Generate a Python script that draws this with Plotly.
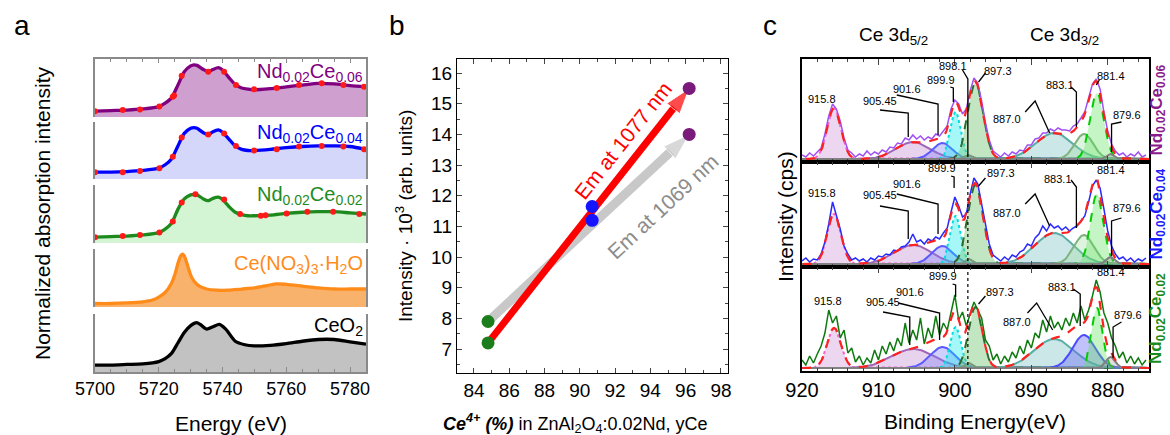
import numpy as np
import plotly.graph_objects as go

# ===================== Panel a : Ce L3-edge XANES =====================
E_CE06 = [5700, 5705, 5710, 5715, 5720, 5722, 5724, 5726, 5728, 5730, 5731, 5732, 5734, 5735.5, 5737,
          5738.7, 5740, 5742, 5744, 5746, 5748, 5750, 5755, 5760, 5765, 5770, 5775, 5780, 5785]
I_CE06 = [0.10, 0.11, 0.12, 0.14, 0.18, 0.24, 0.33, 0.55, 0.78, 0.88, 0.90, 0.89, 0.82, 0.78, 0.82,
          0.85, 0.81, 0.68, 0.56, 0.50, 0.48, 0.47, 0.49, 0.52, 0.55, 0.58, 0.57, 0.54, 0.52]
DOT_E_CE06 = [5700, 5708.7, 5714.1, 5720.2, 5724.4, 5724.8, 5727.2, 5735.5, 5740.5, 5744.2, 5749.9,
              5757, 5764, 5771.1, 5777.9, 5784.4]
DOT_I_CE06 = [0.10, 0.12, 0.13, 0.18, 0.35, 0.37, 0.71, 0.78, 0.78, 0.55, 0.48, 0.50, 0.55, 0.58, 0.55, 0.52]

E_CE04 = E_CE06
I_CE04 = [0.12, 0.12, 0.13, 0.15, 0.19, 0.25, 0.35, 0.58, 0.80, 0.89, 0.90, 0.89, 0.81, 0.78, 0.83,
          0.86, 0.82, 0.70, 0.58, 0.52, 0.50, 0.50, 0.52, 0.55, 0.57, 0.58, 0.58, 0.57, 0.52]
DOT_E_CE04 = [5700, 5708.7, 5714.1, 5720.2, 5724.4, 5727.2, 5735.5, 5740.5, 5744.2, 5749.9, 5757,
              5764, 5771.1, 5777.9, 5784.4]
DOT_I_CE04 = [0.12, 0.12, 0.14, 0.19, 0.39, 0.73, 0.78, 0.80, 0.58, 0.50, 0.52, 0.57, 0.58, 0.57, 0.52]

E_CE02 = E_CE06
I_CE02 = [0.10, 0.11, 0.12, 0.14, 0.18, 0.24, 0.34, 0.58, 0.76, 0.83, 0.84, 0.83, 0.76, 0.73, 0.77,
          0.79, 0.75, 0.63, 0.53, 0.49, 0.47, 0.47, 0.48, 0.51, 0.53, 0.54, 0.54, 0.52, 0.50]
DOT_E_CE02 = [5700, 5708.7, 5714.1, 5720.2, 5724.4, 5727.2, 5731.5, 5740.5, 5745.5, 5752, 5753.5,
              5760.1, 5766.6, 5774.7, 5782.9]
DOT_I_CE02 = [0.10, 0.12, 0.14, 0.18, 0.37, 0.70, 0.84, 0.75, 0.50, 0.47, 0.48, 0.51, 0.54, 0.54, 0.50]

E_NITRATE = [5700, 5705, 5710, 5715, 5718, 5720, 5722, 5724, 5725, 5726, 5727, 5727.5, 5728, 5729, 5730,
             5731, 5733, 5735, 5738, 5742, 5746, 5750, 5754, 5757, 5760, 5765, 5770, 5775, 5780, 5785]
I_NITRATE = [0.06, 0.06, 0.07, 0.09, 0.12, 0.17, 0.25, 0.41, 0.55, 0.75, 0.89, 0.91, 0.88, 0.72, 0.55,
             0.45, 0.35, 0.31, 0.29, 0.29, 0.31, 0.33, 0.37, 0.40, 0.39, 0.36, 0.33, 0.31, 0.31, 0.31]

E_CEO2 = [5700, 5705, 5710, 5715, 5720, 5722, 5724, 5726, 5728, 5730, 5731.9, 5733, 5735, 5737, 5739,
          5741, 5744, 5747, 5750, 5755, 5760, 5765, 5770, 5775, 5780, 5785]
I_CEO2 = [0.12, 0.12, 0.13, 0.14, 0.18, 0.23, 0.32, 0.50, 0.68, 0.80, 0.85, 0.82, 0.74, 0.78, 0.82,
          0.74, 0.53, 0.47, 0.45, 0.46, 0.49, 0.53, 0.56, 0.56, 0.52, 0.48]

XANES_LABELS = ["Nd<sub>0.02</sub>Ce<sub>0.06</sub>", "Nd<sub>0.02</sub>Ce<sub>0.04</sub>",
                "Nd<sub>0.02</sub>Ce<sub>0.02</sub>", "Ce(NO<sub>3</sub>)<sub>3</sub>·H<sub>2</sub>O",
                "CeO<sub>2</sub>"]
XANES_TICKS = [5700, 5720, 5740, 5760, 5780]

# ===================== Panel b : emission intensity =====================
CE4_PERCENT = [84.8, 90.7, 96.2]
EM_1077 = [7.2, 11.65, 15.5]
EM_1069 = [7.9, 11.2, 14.0]

# ===================== Panel c : Ce 3d XPS =====================
BE = np.arange(920.0, 874.9, -0.5)
SPEC_06 = [4, 2, 6, 3, 7, 11, 25, 43, 55, 50,
           38, 21, 9, 6, 2, 5, 3, 8, 4, 7,
           5, 9, 7, 12, 11, 16, 15, 21, 19, 24,
           20, 23, 19, 22, 20, 25, 23, 28, 33, 50,
           59, 55, 45, 50, 68, 81, 76, 58, 36, 19,
           8, 5, 2, 6, 3, 7, 5, 9, 8, 14,
           14, 20, 21, 26, 26, 30, 28, 31, 29, 29,
           28, 33, 35, 41, 47, 61, 75, 80, 70, 47,
           28, 15, 8, 4, 6, 2, 5, 3, 7, 2,
           4]
SPEC_04 = [3, 6, 2, 5, 4, 10, 22, 40, 62, 49,
           35, 18, 10, 4, 6, 3, 5, 2, 6, 4,
           8, 7, 10, 9, 14, 13, 17, 18, 22, 30,
           22, 24, 20, 25, 23, 27, 25, 31, 36, 52,
           67, 58, 47, 50, 70, 86, 80, 60, 38, 20,
           9, 6, 3, 7, 4, 9, 7, 12, 14, 20,
           18, 26, 30, 38, 33, 40, 36, 38, 34, 37,
           33, 36, 38, 43, 48, 62, 78, 84, 76, 55,
           33, 18, 10, 5, 7, 3, 6, 2, 5, 3,
           6]
SPEC_02 = [8, 3, 12, 5, 14, 22, 35, 58, 45, 52,
           30, 38, 15, 20, 6, 12, 3, 10, 5, 18,
           8, 22, 14, 26, 17, 30, 22, 45, 25, 38,
           28, 50, 24, 40, 30, 52, 33, 45, 38, 55,
           73, 48, 56, 42, 55, 66, 58, 50, 28, 22,
           8, 14, 4, 12, 6, 16, 10, 22, 14, 28,
           20, 35, 30, 48, 36, 52, 40, 46, 38, 50,
           42, 55, 45, 62, 48, 58, 72, 88, 76, 55,
           45, 30, 22, 10, 16, 5, 12, 4, 10, 3,
           8]

PEAK_CENTERS = [915.8, 905.45, 901.6, 899.9, 898.1, 897.3, 887.0, 883.1, 881.4, 879.6]
HEIGHTS_06 = [51, 17, 16, 47, 4, 76, 26, 25, 66, 5]
WIDTHS_06 = [0.9, 2.2, 1.3, 0.7, 0.5, 1.0, 2.4, 1.2, 0.9, 0.5]
HEIGHTS_04 = [50, 19, 18, 48, 5, 79, 31, 29, 70, 7]
WIDTHS_04 = [0.9, 2.4, 1.4, 0.7, 0.5, 1.0, 2.5, 1.3, 0.85, 0.55]
HEIGHTS_02 = [40, 19, 21, 41, 5, 61, 29, 33, 60, 11]
WIDTHS_02 = [0.9, 2.8, 1.6, 0.7, 0.5, 0.9, 2.6, 1.5, 0.7, 0.6]
XPS_TICKS = [920, 910, 900, 890, 880]
XPS_SAMPLE_LABELS = ["Nd<sub>0.02</sub>Ce<sub>0.06</sub>", "Nd<sub>0.02</sub>Ce<sub>0.04</sub>",
                     "Nd<sub>0.02</sub>Ce<sub>0.02</sub>"]

# ===================== styling / layout helpers =====================
W, H = 1170, 435
FONT = "Liberation Sans, Arial, sans-serif"


def px(p):
    return p / W


def py(p):
    return 1 - p / H


def names(n):
    s = "" if n == 1 else str(n)
    return "xaxis" + s, "yaxis" + s, "x" + s, "y" + s


fig = go.Figure()
layout_axes = {}
annotations = []

# ---------------- Panel a ----------------
A_XDOM = [px(95), px(366)]
A_ROWS = [(59, 117), (122, 179), (185, 243), (249, 307), (314, 372)]
A_LINE = ["#800080", "#0000ff", "#1e8a1e", "#ff8c1a", "#000000"]
A_FILL = ["#cf9fd0", "#d4d7fa", "#d3f5d3", "#f9b26c", "#c2c2c2"]
A_LABEL_COL = ["#800080", "#0000ff", "#1e8a1e", "#ff8c1a", "#000000"]
A_LABEL_Y = [72, 133, 196, 264, 326]
curves = [(E_CE06, I_CE06, DOT_E_CE06, DOT_I_CE06), (E_CE04, I_CE04, DOT_E_CE04, DOT_I_CE04),
          (E_CE02, I_CE02, DOT_E_CE02, DOT_I_CE02), (E_NITRATE, I_NITRATE, None, None),
          (E_CEO2, I_CEO2, None, None)]
AX_GRAY = "#8a8a8a"
for i, (top, bot) in enumerate(A_ROWS):
    n = i + 1
    xa, ya, xr, yr = names(n)
    xd = dict(domain=A_XDOM, range=[5700, 5785], anchor=yr, showgrid=False, zeroline=False,
              automargin=False)
    if i == 0:
        xd.update(side="top", showline=True, linecolor=AX_GRAY, linewidth=1.5, ticks="inside",
                  ticklen=4, tickcolor=AX_GRAY, tickvals=XANES_TICKS, showticklabels=False,
                  minor=dict(dtick=5, ticks="inside", ticklen=3, tickcolor=AX_GRAY))
    elif i == 4:
        xd.update(showline=True, linecolor=AX_GRAY, linewidth=1.5, ticks="inside", ticklen=5,
                  tickcolor=AX_GRAY, tickvals=XANES_TICKS,
                  tickfont=dict(size=18, color="black", family=FONT),
                  minor=dict(dtick=5, ticks="inside", ticklen=3, tickcolor=AX_GRAY))
    else:
        xd.update(visible=False)
    layout_axes[xa] = xd
    layout_axes[ya] = dict(domain=[py(bot), py(top)], range=[0, 1], anchor=xr, showgrid=False,
                           zeroline=False, showline=True, mirror=True, linecolor=AX_GRAY,
                           linewidth=1.5, ticks="", showticklabels=False, automargin=False)
    e, v, de, dv = curves[i]
    fig.add_trace(go.Scatter(x=e, y=v, mode="lines", fill="tozeroy", fillcolor=A_FILL[i],
                             line=dict(color=A_LINE[i], width=3.3, shape="spline", smoothing=0.7),
                             xaxis=xr, yaxis=yr, hoverinfo="skip"))
    if de is not None:
        fig.add_trace(go.Scatter(x=de, y=dv, mode="markers", marker=dict(color="#ff1a1a", size=6),
                                 xaxis=xr, yaxis=yr, hoverinfo="skip"))
    annotations.append(dict(text=XANES_LABELS[i], xref="paper", yref="paper", x=px(365),
                            y=py(A_LABEL_Y[i]), xanchor="right", yanchor="middle", showarrow=False,
                            font=dict(size=20, color=A_LABEL_COL[i], family=FONT)))

annotations += [
    dict(text="a", x=px(22), y=py(26), font=dict(size=28)),
    dict(text="Normalized absorption intensity", x=px(42), y=py(214), textangle=-90,
         font=dict(size=21)),
    dict(text="Energy (eV)", x=px(231), y=py(423), font=dict(size=21)),
]

# ---------------- Panel b ----------------
xa, ya, xr, yr = names(6)
layout_axes[xa] = dict(domain=[px(457), px(728)], range=[83.04, 98.4], anchor=yr, dtick=2,
                       tick0=84, showgrid=False, zeroline=False, showline=True, mirror="ticks",
                       linecolor="black", linewidth=1.2, ticks="inside", ticklen=5,
                       tickfont=dict(size=19, family=FONT, color="black"), automargin=False,
                       minor=dict(dtick=1, ticks="inside", ticklen=3))
layout_axes[ya] = dict(domain=[py(373), py(59)], range=[6.22, 16.46], anchor=xr, dtick=1,
                       showgrid=False, zeroline=False, showline=True, mirror="ticks",
                       linecolor="black", linewidth=1.2, ticks="inside", ticklen=5,
                       tickfont=dict(size=19, family=FONT, color="black"), automargin=False,
                       minor=dict(dtick=0.5, ticks="inside", ticklen=3))
SAMPLE_COLORS = ["#1b7d1b", "#1414ff", "#7a1a7a"]
fig.add_trace(go.Scatter(x=[CE4_PERCENT[0], CE4_PERCENT[-1]], y=[EM_1069[0], EM_1069[-1]],
                         mode="lines+markers", line=dict(color="#c8c8c8", width=9),
                         marker=dict(symbol="arrow", size=[0, 28], angleref="previous",
                                     color="#c8c8c8"),
                         xaxis=xr, yaxis=yr, hoverinfo="skip"))
fig.add_trace(go.Scatter(x=[CE4_PERCENT[0], CE4_PERCENT[-1]], y=[EM_1077[0], EM_1077[-1]],
                         mode="lines+markers", line=dict(color="#ff0000", width=7),
                         marker=dict(symbol="arrow", size=[0, 27], angleref="previous",
                                     color="#ff0000"),
                         xaxis=xr, yaxis=yr, hoverinfo="skip"))
fig.add_trace(go.Scatter(x=CE4_PERCENT + CE4_PERCENT, y=EM_1077 + EM_1069, mode="markers",
                         marker=dict(color=SAMPLE_COLORS + SAMPLE_COLORS, size=13),
                         xaxis=xr, yaxis=yr, hoverinfo="skip"))
annotations += [
    dict(text="Em at 1077 nm", xref=xr, yref=yr, x=92.45, y=13.8, textangle=-51.7,
         font=dict(size=21, color="#ff0000")),
    dict(text="Em at 1069 nm", xref=xr, yref=yr, x=94.72, y=11.64, textangle=-43,
         font=dict(size=21, color="#8c8c8c")),
    dict(text="b", x=px(397), y=py(26), font=dict(size=28)),
    dict(text="Intensity · 10<sup>3</sup> (arb. units)", x=px(404), y=py(216), textangle=-90,
         font=dict(size=19)),
    dict(text="<b><i>Ce<sup>4+</sup> (%)</i></b> in ZnAl<sub>2</sub>O<sub>4</sub>:0.02Nd, yCe",
         x=px(575), y=py(423), font=dict(size=18)),
]

# ---------------- Panel c ----------------
C_XDOM = [px(802), px(1149)]
C_ROWS = [(59, 162, 159), (162, 267, 264), (267, 371, 368)]
SPEC = [SPEC_06, SPEC_04, SPEC_02]
HEIGHTS = [HEIGHTS_06, HEIGHTS_04, HEIGHTS_02]
WIDTHS = [WIDTHS_06, WIDTHS_04, WIDTHS_02]
SPEC_COL = ["#a052f5", "#2a2aff", "#0f7a0f"]
SIDE_COL = ["#8b1a8b", "#1a1aff", "#1a8a1a"]
COMP_LINE = ["#ff5fc8", "#a066b8", "#5a5aff", "#00dede", "#777777", "#2e6b2e", "#5aaea6",
             "#7fb27f", "#00cc00", "#808080"]
COMP_DASH = ["dot", "solid", "solid", "dot", "solid", "dash", "solid", "solid", "dash", "solid"]
COMP_FILL = ["rgba(215,165,220,0.45)", "rgba(190,130,205,0.35)", "rgba(120,120,250,0.35)",
             "rgba(0,235,235,0.35)", "rgba(150,150,150,0.3)", "rgba(120,200,120,0.45)",
             "rgba(110,185,185,0.35)", "rgba(150,220,150,0.3)", "rgba(90,225,90,0.35)",
             "rgba(150,150,150,0.3)"]
PEAK_TEXT = ["915.8", "905.45", "901.6", "899.9", "898.1", "897.3", "887.0", "883.1", "881.4", "879.6"]
# label anchor positions (eV, panel units) and leader paths
C_LABELS = [
    {0: (917.4, 60, None), 1: (909.8, 58, [(909.8, 49), (906.1, 46), (906.1, 22)]),
     2: (906.3, 70, [(907.6, 64), (902.2, 55), (902.2, 24)]),
     3: (901.8, 79, [(900.6, 72), (900.2, 71), (900.2, 57)]),
     4: (900.3, 93, [(899.0, 89), (898.3, 80), (898.3, 2)]),
     5: (894.4, 88, [(896.0, 86), (896.9, 77)]),
     6: (893.2, 40, [(890.8, 47), (889.5, 58), (887.6, 26)]),
     7: (886.3, 74, [(884.8, 72), (884.1, 67), (884.1, 32)]),
     8: (879.6, 83, [(881.1, 79), (881.5, 74)]),
     9: (877.5, 44, [(878.2, 37), (879.5, 35), (879.5, 7)])},
    {0: (917.4, 71, None), 1: (909.8, 69, [(909.8, 58), (906.1, 53), (906.1, 25)]),
     2: (906.3, 80, [(907.6, 70), (902.2, 60), (902.2, 30)]),
     3: (901.7, 96, [(900.5, 88), (900.1, 87), (900.1, 76)]),
     5: (893.9, 91, [(896.0, 86), (896.9, 78)]),
     6: (893.2, 51, [(890.8, 60), (889.5, 70), (887.6, 38)]),
     7: (886.5, 85, [(884.8, 84), (884.1, 77), (884.1, 36)]),
     8: (879.6, 94, None),
     9: (877.5, 56, [(878.2, 46), (879.5, 43), (879.5, 8)])},
    {0: (916.6, 67, None), 1: (909.4, 66, [(909.4, 56), (905.9, 51), (905.9, 23)]),
     2: (905.9, 76, [(907.4, 65), (902.0, 55), (902.0, 28)]),
     3: (901.6, 92, [(900.3, 84), (899.9, 83), (899.9, 71)]),
     5: (894.1, 76, [(896.0, 72), (896.9, 64)]),
     6: (891.9, 46, [(890.5, 55), (889.3, 65), (887.2, 38)]),
     7: (886.0, 81, [(884.5, 79), (883.6, 74), (883.6, 42)]),
     8: (879.6, 96, None),
     9: (877.4, 53, [(878.2, 46), (879.3, 41), (879.3, 10)])},
]
gx = np.linspace(874.6, 920.0, 455)
for k, (top, bot, base) in enumerate(C_ROWS):
    n = 7 + k
    xa, ya, xr, yr = names(n)
    xd = dict(domain=C_XDOM, range=[920, 874.6], anchor=yr, tickvals=XPS_TICKS, showgrid=False,
              zeroline=False, showline=True, mirror="ticks", linecolor="black", linewidth=1.5,
              ticks="inside", ticklen=6, tickwidth=1.2, automargin=False,
              minor=dict(dtick=2, ticks="inside", ticklen=3),
              tickfont=dict(size=20, family=FONT, color="black"))
    if k < 2:
        xd["showticklabels"] = False
    layout_axes[xa] = xd
    layout_axes[ya] = dict(domain=[py(bot), py(top)], range=[base - bot, base - top], anchor=xr,
                           showgrid=False, zeroline=False, showline=True, mirror=True,
                           linecolor="black", linewidth=1.5, ticks="", showticklabels=False,
                           automargin=False)
    env = np.zeros_like(gx)
    for j, c in enumerate(PEAK_CENTERS):
        comp = HEIGHTS[k][j] * np.exp(-0.5 * ((gx - c) / WIDTHS[k][j]) ** 2)
        env += comp
        lc, fc = COMP_LINE[j], COMP_FILL[j]
        if k == 2 and j == 7:
            lc, fc = "#4a4aff", "rgba(100,100,245,0.4)"
        fig.add_trace(go.Scatter(x=gx, y=comp, mode="lines", fill="tozeroy", fillcolor=fc,
                                 line=dict(color=lc, width=2, dash=COMP_DASH[j]),
                                 xaxis=xr, yaxis=yr, hoverinfo="skip"))
    fig.add_trace(go.Scatter(x=BE, y=SPEC[k], mode="lines", line=dict(color=SPEC_COL[k], width=1.5),
                             xaxis=xr, yaxis=yr, hoverinfo="skip"))
    fig.add_trace(go.Scatter(x=gx, y=env, mode="lines", line=dict(color="#ff2020", width=2.2, dash="dash"),
                             xaxis=xr, yaxis=yr, hoverinfo="skip"))
    if k > 0:
        fig.add_trace(go.Scatter(x=[898.3, 898.3], y=[base - bot, base - top], mode="lines",
                                 line=dict(color="black", width=1.2, dash="dot"),
                                 xaxis=xr, yaxis=yr, hoverinfo="skip"))
    for j, (lx, ly, path) in C_LABELS[k].items():
        annotations.append(dict(text=PEAK_TEXT[j], xref=xr, yref=yr, x=lx, y=ly,
                                font=dict(size=11)))
        if path:
            fig.add_trace(go.Scatter(x=[p[0] for p in path], y=[p[1] for p in path], mode="lines",
                                     line=dict(color="black", width=1.3), xaxis=xr, yaxis=yr,
                                     hoverinfo="skip"))
    annotations.append(dict(text="<b>" + XPS_SAMPLE_LABELS[k] + "</b>", x=px(1157),
                            y=py((top + bot) / 2), textangle=-90,
                            font=dict(size=17, color=SIDE_COL[k])))

annotations += [
    dict(text="c", x=px(770), y=py(26), font=dict(size=28)),
    dict(text="Ce 3d<sub>5/2</sub>", x=px(893), y=py(36), font=dict(size=19)),
    dict(text="Ce 3d<sub>3/2</sub>", x=px(1064), y=py(36), font=dict(size=19)),
    dict(text="Intensity (cps)", x=px(785), y=py(216), textangle=-90, font=dict(size=21)),
    dict(text="Binding Energy(eV)", x=px(975), y=py(421), font=dict(size=21)),
]

for a in annotations:
    a.setdefault("xref", "paper")
    a.setdefault("yref", "paper")
    a.setdefault("xanchor", "center")
    a.setdefault("yanchor", "middle")
    a.setdefault("showarrow", False)
    f = a.setdefault("font", {})
    f.setdefault("family", FONT)
    f.setdefault("color", "black")

fig.update_layout(template="none", width=W, height=H, margin=dict(l=0, r=0, t=0, b=0, pad=0),
                  paper_bgcolor="white", plot_bgcolor="white", showlegend=False,
                  font=dict(family=FONT, color="black"), annotations=annotations, **layout_axes)
fig.write_html("out.html", config={"displayModeBar": False},
               post_script="document.body.style.margin='0px';")
